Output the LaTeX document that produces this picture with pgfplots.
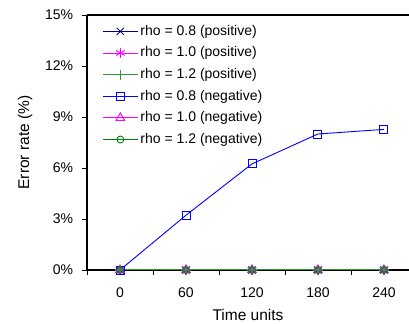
\documentclass[border=0pt]{standalone}
\usepackage{fontspec}
\setmainfont{Liberation Sans}
\usepackage{pgfplots}
\pgfplotsset{compat=1.18}
\definecolor{navyc}{RGB}{0,0,128}
\definecolor{magc}{RGB}{255,0,255}
\definecolor{lgreen}{RGB}{50,150,50}
\definecolor{dgreen}{RGB}{0,128,0}
\definecolor{bluec}{RGB}{0,0,255}
\begin{document}
\fontsize{14bp}{16bp}\selectfont
\begin{tikzpicture}
\begin{axis}[
  scale only axis, width=322bp, height=255bp,
  xmin=-30, xmax=262.8, ymin=0, ymax=15,
  axis x line=box, axis y line=left,
  axis line style={-, line width=1.2bp, black},
  tick align=outside, xtick pos=bottom, ytick pos=left,
  xtick={0,60,120,180,240},
  major x tick style={draw=none},
  minor xtick={-30,30,90,150,210},
  minor x tick style={black, line width=0.8bp},
  major y tick style={black, line width=0.8bp},
  major tick length=5bp, minor tick length=5bp,
  ytick={0,3,6,9,12,15},
  yticklabel={\pgfmathprintnumber{\tick}\%},
  /pgf/number format/assume math mode=true,
  xticklabel style={font=\fontsize{14bp}{16bp}\selectfont, anchor=center, yshift=-18bp},
  yticklabel style={font=\fontsize{14bp}{16bp}\selectfont, anchor=east, xshift=-4bp},
  xlabel={Time units}, ylabel={Error rate (\%)},
  xlabel style={font=\fontsize{15.5bp}{18bp}\selectfont, anchor=center, at={(axis description cs:0.5,0)}, yshift=-45bp},
  ylabel style={font=\fontsize{15.5bp}{18bp}\selectfont, anchor=center, at={(axis description cs:0,0.5)}, yshift=62bp},
  legend style={draw=none, fill=none, at={(axis description cs:0,1)}, anchor=north west,
    xshift=12bp, yshift=-6bp, font=\fontsize{14bp}{16bp}\selectfont, row sep=5.4bp,
    nodes={inner sep=2bp}},
  legend cell align=left,
  legend image code/.code={\draw[mark repeat=2,mark phase=2] plot coordinates {(0bp,0bp) (17.5bp,0bp) (35bp,0bp)};},
  every axis plot/.append style={line width=0.9bp},
]
\addplot[color=navyc, mark=x, mark size=5bp] coordinates {(0,0) (60,0) (120,0) (180,0) (240,0)};
\addlegendentry{rho = 0.8 (positive)}
\addplot[color=magc, mark=asterisk, mark size=5bp] coordinates {(0,0) (60,0) (120,0) (180,0) (240,0)};
\addlegendentry{rho = 1.0 (positive)}
\addplot[color=lgreen, mark=+, mark size=5bp, line width=1.3bp] coordinates {(0,0) (60,0) (120,0) (180,0) (240,0)};
\addlegendentry{rho = 1.2 (positive)}
\addplot[color=bluec, mark=square, mark size=4bp] coordinates {(0,0) (60,3.22) (120,6.24) (180,8.0) (240,8.27)};
\addlegendentry{rho = 0.8 (negative)}
\addplot[color=magc, mark=triangle, mark size=5bp] coordinates {(0,0) (60,0) (120,0) (180,0) (240,0)};
\addlegendentry{rho = 1.0 (negative)}
\addplot[color=dgreen, mark=o, mark size=3.5bp] coordinates {(0,0) (60,0) (120,0) (180,0) (240,0)};
\addlegendentry{rho = 1.2 (negative)}
\end{axis}
\pgfresetboundingbox
\path ([shift={(-87bp,-54bp)}]current axis.south west) rectangle ([shift={(0bp,15bp)}]current axis.north east);
\end{tikzpicture}
\end{document}
